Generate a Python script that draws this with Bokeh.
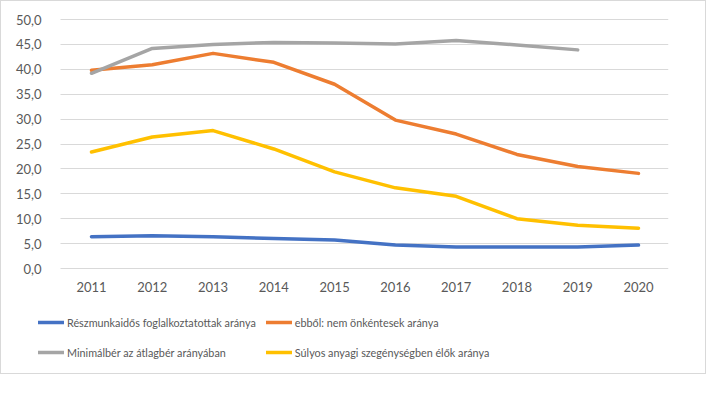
from bokeh.plotting import figure
from bokeh.models import Legend, LegendItem, CustomJSTickFormatter, FixedTicker, Range1d
from bokeh.embed import file_html
from bokeh.resources import INLINE

years = [2011, 2012, 2013, 2014, 2015, 2016, 2017, 2018, 2019, 2020]
reszmunkaidos = [6.4, 6.6, 6.4, 6.0, 5.7, 4.7, 4.3, 4.3, 4.3, 4.7]
nem_onkentes = [39.8, 40.9, 43.2, 41.4, 37.0, 29.8, 27.0, 22.9, 20.5, 19.1]
minimalber = [39.2, 44.2, 45.0, 45.4, 45.3, 45.1, 45.8, 44.9, 43.9, float("nan")]
szegenyseg = [23.4, 26.4, 27.7, 24.0, 19.4, 16.2, 14.5, 10.0, 8.7, 8.1]

labels = ["Részmunkaidős foglalkoztatottak aránya", "ebből: nem önkéntesek aránya",
          "Minimálbér az átlagbér arányában", "Súlyos anyagi szegénységben élők aránya"]
colors = ["#4472C4", "#ED7D31", "#A5A5A5", "#FFC000"]
y_ticks = [0, 5, 10, 15, 20, 25, 30, 35, 40, 45, 50]
y_max = 50

# ---- layout (pixels, canvas coordinates) ----
W, H = 704, 372
FRAME_W = 667
Y_TOP_PX = 18                        # canvas y of value 50
X_FIRST_PX, X_LAST_PX = 90, 637      # centre of first / last year
Y_ZERO_PX = 267                      # canvas y of value 0
PLOT_LEFT_PX = 59                    # left end of gridlines / y axis

px_per_year = (X_LAST_PX - X_FIRST_PX) / (years[-1] - years[0])
x_lo = years[0] - X_FIRST_PX / px_per_year
x_hi = years[0] + (FRAME_W - X_FIRST_PX) / px_per_year
x_axis_pos = years[0] - (X_FIRST_PX - PLOT_LEFT_PX) / px_per_year
px_per_unit = (Y_ZERO_PX - Y_TOP_PX) / y_max
y_hi = y_max + Y_TOP_PX / px_per_unit
y_lo = y_max - (H - Y_TOP_PX) / px_per_unit

p = figure(frame_width=FRAME_W, frame_height=H, min_border_left=0,
           min_border_right=W - FRAME_W, min_border_top=0, min_border_bottom=0,
           output_backend="svg", toolbar_location=None,
           x_range=Range1d(x_lo, x_hi), y_range=Range1d(y_lo, y_hi))
p.styles = {"border": "1px solid #D9D9D9"}
p.outline_line_color = None
p.background_fill_color = "white"
p.border_fill_color = "white"

series = [reszmunkaidos, nem_onkentes, minimalber, szegenyseg]
renderers = []
for s, c in zip(series, colors):
    r = p.line(years, s, line_color=c, line_width=3.5, line_join="round", line_cap="round")
    renderers.append(r)

p.xaxis.ticker = FixedTicker(ticks=years)
p.yaxis.ticker = FixedTicker(ticks=y_ticks)
p.yaxis.formatter = CustomJSTickFormatter(code="return tick.toFixed(1).replace('.', ',');")
p.xaxis.fixed_location = 0
p.yaxis.fixed_location = x_axis_pos
for ax in (p.xaxis[0], p.yaxis[0]):
    ax.axis_line_color = None
    ax.major_tick_line_color = None
    ax.minor_tick_line_color = None
    ax.major_tick_out = 0
    ax.major_tick_in = 0
    ax.minor_tick_out = 0
    ax.major_label_text_font = "Lato"
    ax.major_label_text_font_size = "13px"
    ax.major_label_text_color = "#595959"
p.yaxis.major_label_standoff = 19
p.xaxis.major_label_standoff = 13
p.xgrid.grid_line_color = None
p.ygrid.grid_line_color = "#D9D9D9"
p.ygrid.grid_line_width = 1
p.ygrid.cross_bounds = (x_axis_pos, x_hi)

items = [LegendItem(label=l, renderers=[r]) for l, r in zip(labels, renderers)]
legend = Legend(items=items, ncols=2, location=(37, 11), orientation="horizontal")
legend.label_text_font = "Lato"
legend.label_text_font_size = "10.8px"
legend.label_text_color = "#595959"
legend.glyph_width = 26
legend.glyph_height = 20
legend.label_standoff = 3
legend.spacing = 10
legend.padding = 0
legend.margin = 0
legend.border_line_color = None
legend.background_fill_alpha = 0
legend.label_height = 20
p.add_layout(legend, "center")

open("out.html", "w").write(file_html(p, INLINE))
